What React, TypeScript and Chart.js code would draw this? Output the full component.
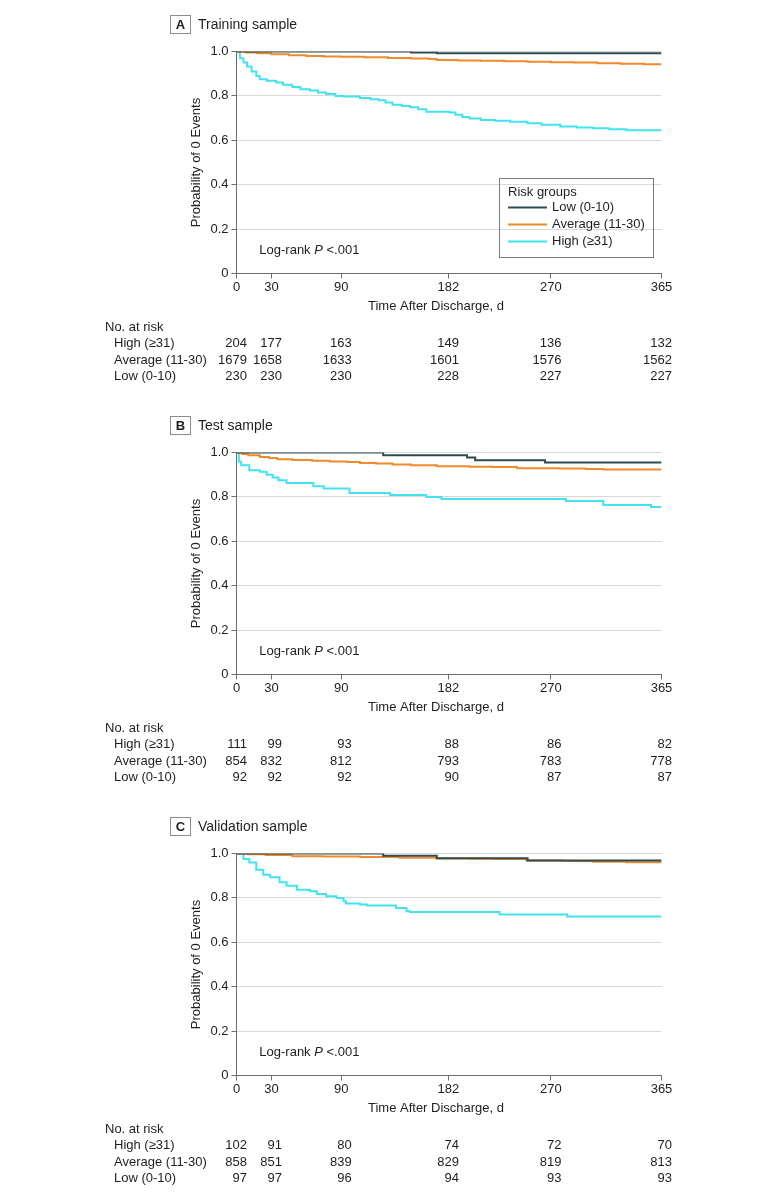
import React, { useEffect, useRef } from 'react';
import { Chart, registerables } from 'chart.js';

Chart.register(...registerables);

// ---------- shared labels ----------
const timeTicks = [0, 30, 90, 182, 270, 365];
const groupNames = ['Low (0-10)', 'Average (11-30)', 'High (≥31)'];
const riskRowNames = ['High (≥31)', 'Average (11-30)', 'Low (0-10)'];

// ---------- A: Training sample ----------
const trainLowT = [0, 150, 172, 365];
const trainLowS = [1, 0.996, 0.992, 0.992];
const trainAvgT = [0, 8, 18, 30, 45, 60, 75, 90, 110, 130, 150, 165, 172, 190, 210, 230, 250, 270, 290, 310, 330, 350, 365];
const trainAvgS = [1, 0.996, 0.992, 0.988, 0.983, 0.98, 0.978, 0.976, 0.974, 0.971, 0.968, 0.966, 0.962, 0.96, 0.958, 0.956, 0.954, 0.952, 0.95, 0.947, 0.945, 0.943, 0.943];
const trainHighT = [0, 3, 6, 9, 13, 17, 20, 26, 34, 40, 48, 55, 63, 70, 77, 85, 92, 106, 115, 122, 128, 134, 142, 149, 156, 163, 183, 188, 194, 200, 210, 222, 235, 250, 262, 278, 292, 306, 320, 335, 365];
const trainHighS = [1, 0.97, 0.95, 0.932, 0.91, 0.89, 0.875, 0.868, 0.86, 0.85, 0.84, 0.83, 0.824, 0.815, 0.809, 0.8, 0.797, 0.791, 0.785, 0.78, 0.77, 0.76, 0.755, 0.749, 0.74, 0.729, 0.725, 0.715, 0.705, 0.698, 0.692, 0.688, 0.683, 0.677, 0.67, 0.662, 0.658, 0.654, 0.65, 0.645, 0.645];
const trainRiskHigh = [204, 177, 163, 149, 136, 132];
const trainRiskAvg = [1679, 1658, 1633, 1601, 1576, 1562];
const trainRiskLow = [230, 230, 230, 228, 227, 227];

// ---------- B: Test sample ----------
const testLowT = [0, 126, 198, 205, 265, 365];
const testLowS = [1, 0.988, 0.977, 0.965, 0.955, 0.955];
const testAvgT = [0, 5, 10, 20, 28, 35, 48, 65, 80, 95, 106, 120, 134, 150, 172, 200, 220, 241, 277, 300, 315, 365];
const testAvgS = [1, 0.993, 0.988, 0.98, 0.975, 0.97, 0.966, 0.963, 0.96, 0.957, 0.953, 0.95, 0.946, 0.943, 0.938, 0.936, 0.935, 0.929, 0.928, 0.926, 0.923, 0.923];
const testHighT = [0, 2, 4, 11, 20, 26, 31, 36, 43, 66, 75, 97, 132, 163, 176, 283, 315, 356, 365];
const testHighS = [1, 0.958, 0.943, 0.92, 0.913, 0.9, 0.887, 0.875, 0.863, 0.848, 0.838, 0.818, 0.808, 0.8, 0.791, 0.782, 0.764, 0.755, 0.755];
const testRiskHigh = [111, 99, 93, 88, 86, 82];
const testRiskAvg = [854, 832, 812, 793, 783, 778];
const testRiskLow = [92, 92, 92, 90, 87, 87];

// ---------- C: Validation sample ----------
const valLowT = [0, 126, 172, 250, 365];
const valLowS = [1, 0.99, 0.979, 0.969, 0.969];
const valAvgT = [0, 10, 25, 48, 75, 106, 140, 172, 200, 220, 249, 280, 306, 335, 365];
const valAvgS = [1, 0.997, 0.993, 0.988, 0.986, 0.984, 0.981, 0.978, 0.976, 0.975, 0.969, 0.966, 0.963, 0.961, 0.96];
const valHighT = [0, 6, 11, 17, 23, 29, 37, 43, 52, 63, 69, 77, 86, 92, 94, 106, 112, 137, 146, 149, 226, 284, 365];
const valHighS = [1, 0.975, 0.96, 0.927, 0.904, 0.893, 0.87, 0.855, 0.837, 0.83, 0.818, 0.807, 0.8, 0.785, 0.775, 0.77, 0.766, 0.755, 0.74, 0.736, 0.725, 0.716, 0.716];
const valRiskHigh = [102, 91, 80, 74, 72, 70];
const valRiskAvg = [858, 851, 839, 829, 819, 813];
const valRiskLow = [97, 97, 96, 94, 93, 93];

// ---------- styles ----------
const FONT = '"Liberation Sans", Arial, sans-serif';
const TEXT = '#1e1e1e';
const AXIS = '#6e6e6e';
const GRID = '#d8d8d8';
const COLORS = ['#2d4b50', '#f08a2a', '#42e3ee'];

type PanelDef = {
  letter: string;
  title: string;
  series: [number[], number[]][];
  risk: number[][];
  legend: boolean;
  height: number;
};

const panels: PanelDef[] = [
  {
    letter: 'A', title: 'Training sample',
    series: [[trainLowT, trainLowS], [trainAvgT, trainAvgS], [trainHighT, trainHighS]],
    risk: [trainRiskHigh, trainRiskAvg, trainRiskLow], legend: true, height: 401,
  },
  {
    letter: 'B', title: 'Test sample',
    series: [[testLowT, testLowS], [testAvgT, testAvgS], [testHighT, testHighS]],
    risk: [testRiskHigh, testRiskAvg, testRiskLow], legend: false, height: 401,
  },
  {
    letter: 'C', title: 'Validation sample',
    series: [[valLowT, valLowS], [valAvgT, valAvgS], [valHighT, valHighS]],
    risk: [valRiskHigh, valRiskAvg, valRiskLow], legend: false, height: 398,
  },
];

const PLOT_LEFT = 236.5;
const PLOT_RIGHT = 661.5;
const PLOT_TOP = 51.5;
const PLOT_BOTTOM = 273.5;
const X_AXIS_H = 40;

function makeTextPlugin(p: PanelDef) {
  return {
    id: 'panelText' + p.letter,
    afterDraw(chart: any) {
      const ctx = chart.ctx as CanvasRenderingContext2D;
      const ca = chart.chartArea;
      const xs = chart.scales.x;
      ctx.save();
      ctx.fillStyle = TEXT;
      ctx.textBaseline = 'middle';

      // panel label box + title
      const bx = ca.left - 67;
      const by = ca.top - 36.5;
      ctx.strokeStyle = '#8c8c8c';
      ctx.lineWidth = 1;
      ctx.strokeRect(Math.round(bx) + 0.5, Math.round(by) + 0.5, 20, 18);
      ctx.font = 'bold 13px ' + FONT;
      ctx.textAlign = 'center';
      ctx.fillText(p.letter, Math.round(bx) + 10.5, Math.round(by) + 10);
      ctx.font = '14px ' + FONT;
      ctx.textAlign = 'left';
      ctx.fillText(p.title, Math.round(bx) + 28, Math.round(by) + 10);

      // y axis title
      ctx.save();
      ctx.translate(ca.left - 40.5, (ca.top + ca.bottom) / 2);
      ctx.rotate(-Math.PI / 2);
      ctx.font = '13px ' + FONT;
      ctx.textAlign = 'center';
      ctx.fillText('Probability of 0 Events', 0, 0);
      ctx.restore();

      // x axis title
      ctx.font = '13px ' + FONT;
      ctx.textAlign = 'center';
      ctx.fillText('Time After Discharge, d', 436, ca.bottom + 33);

      // log-rank text
      ctx.textAlign = 'left';
      let lx = ca.left + 22.8;
      const ly = ca.bottom - 23.3;
      ctx.font = '13px ' + FONT;
      ctx.fillText('Log-rank ', lx, ly);
      lx += ctx.measureText('Log-rank ').width;
      ctx.font = 'italic 13px ' + FONT;
      ctx.fillText('P', lx, ly);
      lx += ctx.measureText('P').width;
      ctx.font = '13px ' + FONT;
      ctx.fillText(' <.001', lx, ly);

      // risk table
      ctx.font = '13px ' + FONT;
      ctx.textAlign = 'left';
      ctx.fillText('No. at risk', 105, ca.bottom + 53.5);
      const rowY = [70, 86.5, 103];
      riskRowNames.forEach((name, r) => {
        ctx.textAlign = 'left';
        ctx.fillText(name, 114, ca.bottom + rowY[r]);
        ctx.textAlign = 'right';
        p.risk[r].forEach((v, c) => {
          const px = xs.getPixelForValue(timeTicks[c]);
          ctx.fillText(String(v), px + 10.5, ca.bottom + rowY[r]);
        });
      });

      // legend
      if (p.legend) {
        const L = ca.right - 163;
        const R = ca.right - 9;
        const T = ca.top + 126;
        const B = ca.bottom - 17.5;
        ctx.strokeStyle = '#7a7a7a';
        ctx.lineWidth = 1;
        ctx.strokeRect(Math.round(L) + 0.5, Math.round(T) + 0.5, Math.round(R - L), Math.round(B - T));
        ctx.textAlign = 'left';
        ctx.fillStyle = TEXT;
        ctx.fillText('Risk groups', L + 9.5, T + 14.5);
        const ds = chart.data.datasets;
        ds.forEach((d: any, i: number) => {
          const y = T + 30 + i * 17;
          ctx.strokeStyle = d.borderColor;
          ctx.lineWidth = 2;
          ctx.beginPath();
          ctx.moveTo(L + 9.5, y);
          ctx.lineTo(L + 48.5, y);
          ctx.stroke();
          ctx.fillStyle = TEXT;
          ctx.fillText(d.label, L + 53.5, y);
        });
      }
      ctx.restore();
    },
  };
}

function Panel({ p, top }: { p: PanelDef; top: number }) {
  const ref = useRef<HTMLCanvasElement | null>(null);
  useEffect(() => {
    const canvas = ref.current;
    if (!canvas) return;
    const datasets = p.series.map(([ts, ss], i) => ({
      label: groupNames[i],
      data: ts.map((t, k) => ({ x: t, y: ss[k] })),
      borderColor: COLORS[i],
      backgroundColor: COLORS[i],
      borderWidth: 2,
      pointRadius: 0,
      stepped: true as const,
      fill: false,
    }));
    const chart = new Chart(canvas, {
      type: 'line',
      data: { datasets },
      options: {
        animation: false,
        responsive: false,
        maintainAspectRatio: false,
        devicePixelRatio: 1,
        layout: {
          padding: {
            left: 0,
            right: 780 - PLOT_RIGHT,
            top: PLOT_TOP,
            bottom: p.height - PLOT_BOTTOM - X_AXIS_H,
          },
        },
        plugins: {
          legend: { display: false },
          tooltip: { enabled: false },
          title: { display: false },
        },
        scales: {
          x: {
            type: 'linear',
            min: 0,
            max: 365,
            afterBuildTicks: (scale: any) => {
              scale.ticks = timeTicks.map((v) => ({ value: v }));
            },
            afterFit: (scale: any) => {
              scale.height = X_AXIS_H;
            },
            ticks: {
              autoSkip: false,
              maxRotation: 0,
              padding: 1,
              color: TEXT,
              font: { family: FONT, size: 13 },
              callback: (v: any) => String(v),
            },
            grid: {
              drawOnChartArea: false,
              drawTicks: true,
              tickLength: 5,
              tickColor: AXIS,
              color: AXIS,
            },
            border: { display: true, color: AXIS, width: 1 },
          },
          y: {
            type: 'linear',
            min: 0,
            max: 1,
            ticks: {
              stepSize: 0.2,
              padding: 3,
              color: TEXT,
              font: { family: FONT, size: 13 },
              callback: (v: any) => (Math.abs(v) < 1e-9 ? '0' : Number(v).toFixed(1)),
            },
            afterFit: (scale: any) => {
              scale.width = PLOT_LEFT;
            },
            grid: {
              drawTicks: true,
              tickLength: 5,
              tickColor: AXIS,
              color: (c: any) => (c.tick && Math.abs(c.tick.value) < 1e-9 ? 'rgba(0,0,0,0)' : GRID),
              lineWidth: 1,
            },
            border: { display: true, color: AXIS, width: 1 },
          },
        },
      },
      plugins: [makeTextPlugin(p)],
    });
    return () => chart.destroy();
  }, [p]);
  return (
    <canvas
      ref={ref}
      width={780}
      height={p.height}
      style={{ position: 'absolute', left: 0, top, width: 780, height: p.height, display: 'block' }}
    />
  );
}

export default function App() {
  return (
    <div
      style={{
        position: 'absolute',
        left: 0,
        top: 0,
        width: 780,
        height: 1200,
        overflow: 'hidden',
        background: '#ffffff',
      }}
    >
      <Panel p={panels[0]} top={0} />
      <Panel p={panels[1]} top={401} />
      <Panel p={panels[2]} top={802} />
    </div>
  );
}
